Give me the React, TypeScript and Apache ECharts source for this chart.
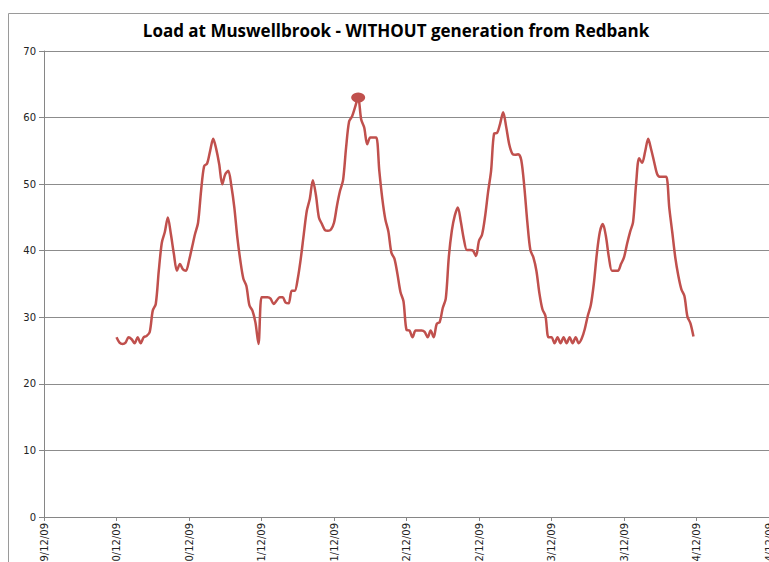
import React, { useEffect, useRef } from "react";
import * as echarts from "echarts";

// Tick label days (labels every 12 hours)
const days = ["19/12/09", "20/12/09", "21/12/09", "22/12/09", "23/12/09", "24/12/09"];
const halfHours = Array.from({ length: 48 }, (_, k) =>
  `${String(Math.floor(k / 2)).padStart(2, "0")}:${k % 2 ? "30" : "00"}`
);

// Half-hourly load (MW) from 20/12/09 00:00 to 23/12/09 23:30
const load: number[] = [
  27, 26.2, 26, 26.2, 27, 26.7, 26.1, 27, 26.1, 27, 27.2, 27.8, 31, 32, 37, 41.2, 42.8, 45, 42.5, 39.5,
  37, 38, 37.2, 37, 38.5, 40.5, 42.5, 44.2, 49, 52.7, 53.1, 55, 56.8, 55.3, 53, 50, 51.5, 52, 49.8, 46.5,
  42, 38.5, 35.8, 34.7, 31.8, 31, 29.2, 26, 33, 33, 33, 32.8, 32, 32.5, 33, 33, 32.2, 32.1, 34, 34,
  35.8, 38.8, 42.5, 46, 47.8, 50.6, 48.4, 45, 44, 43.1, 43, 43.2, 44.2, 46.8, 49, 50.6, 55.5, 59.4, 60.2, 61.6,
  63, 59.7, 58.5, 56, 57, 57, 57, 52, 47.8, 44.7, 42.9, 39.7, 38.8, 36.5, 33.8, 32.4, 28.1, 28, 27, 28,
  28, 28, 27.8, 27, 28, 27, 29, 29.3, 31.4, 32.8, 39, 43, 45.3, 46.5, 44.3, 41.7, 40.1, 40.1, 40, 39.2,
  41.5, 42.4, 45.1, 48.8, 52, 57.6, 57.7, 59.1, 60.8, 58.6, 56, 54.6, 54.4, 54.5, 53.6, 49.6, 44.3, 40.1, 39, 37,
  33.6, 31.2, 30.2, 27, 27, 26.1, 27, 26.1, 27, 26.1, 27, 26.1, 27, 26.1, 26.8, 28.2, 30.2, 31.8, 35, 39.5,
  42.8, 44, 42.2, 39, 37, 37, 37, 38, 39, 41, 42.8, 44.3, 50, 53.9, 53.2, 54.9, 56.8, 55.2, 53.3, 51.5,
  51.1, 51.1, 51.1, 46.4, 42.7, 38.9, 36.2, 34.2, 33.2, 30.1, 29.1, 27.1,
];

const yTicks = [0, 10, 20, 30, 40, 50, 60, 70];

export default function App() {
  const ref = useRef<HTMLDivElement>(null);
  useEffect(() => {
    document.body.style.margin = "0";
    if (!ref.current) return;
    const chart = echarts.init(ref.current, undefined, { renderer: "svg" });

    // categories: 19/12/09 12:00 .. 24/12/09 12:00 half-hourly
    const categories: string[] = [];
    days.forEach((d) => halfHours.forEach((t) => categories.push(`${d} ${t}`)));
    const startIdx = categories.indexOf("19/12/09 12:00");
    const endIdx = categories.indexOf("24/12/09 12:00");
    const cats = categories.slice(startIdx, endIdx + 1);
    const dataStart = cats.indexOf("20/12/09 00:00");
    const values: (number | null)[] = cats.map((_, i) => {
      const j = i - dataStart;
      return j >= 0 && j < load.length ? load[j] : null;
    });

    chart.setOption({
      animation: false,
      backgroundColor: "#ffffff",
      graphic: [
        {
          type: "rect",
          shape: { x: 8.5, y: 13.5, width: 1200, height: 1000 },
          style: { fill: "none", stroke: "#9a9a9a", lineWidth: 1 },
          silent: true,
        },
        {
          type: "text",
          x: 396,
          y: 30,
          style: {
            text: "Load at Muswellbrook - WITHOUT generation from Redbank",
            font: "bold 17px 'Open Sans', 'Noto Sans', sans-serif",
            fill: "#000000",
            align: "center",
            verticalAlign: "middle",
          },
        },
      ],
      grid: {
        left: 44,
        right: 0,
        top: 51,
        bottom: 45,
        containLabel: false,
        outerBoundsMode: "none",
      },
      xAxis: {
        type: "category",
        data: cats,
        boundaryGap: false,
        axisLine: { lineStyle: { color: "#868686", width: 1 } },
        axisTick: { show: true, interval: 23, length: 4, lineStyle: { color: "#868686" } },
        axisLabel: {
          interval: 23,
          rotate: 90,
          margin: 6,
          color: "#222",
          fontSize: 10,
          fontFamily: "'DejaVu Sans', sans-serif",
          formatter: (v: string) => v.split(" ")[0],
        },
        splitLine: { show: false },
      },
      yAxis: {
        type: "value",
        min: yTicks[0],
        max: yTicks[yTicks.length - 1],
        interval: 10,
        axisLine: { show: true, lineStyle: { color: "#868686", width: 1 } },
        axisTick: { show: true, length: 5, lineStyle: { color: "#868686" } },
        axisLabel: {
          margin: 8,
          color: "#222",
          fontSize: 10,
          fontFamily: "'DejaVu Sans', sans-serif",
        },
        splitLine: { show: true, lineStyle: { color: "#8c8c8c", width: 1 } },
      },
      series: [
        {
          type: "line",
          data: values,
          symbol: "none",
          smooth: 0.3,
          connectNulls: false,
          lineStyle: { color: "#C0504D", width: 2.5 },
          itemStyle: { color: "#C0504D" },
          markPoint: {
            symbol: "circle",
            symbolSize: [14, 10],
            label: { show: false },
            itemStyle: { color: "#C0504D" },
            data: [{ type: "max" }],
          },
        },
      ],
    });
    return () => chart.dispose();
  }, []);
  return <div ref={ref} style={{ width: 769, height: 562 }} />;
}
